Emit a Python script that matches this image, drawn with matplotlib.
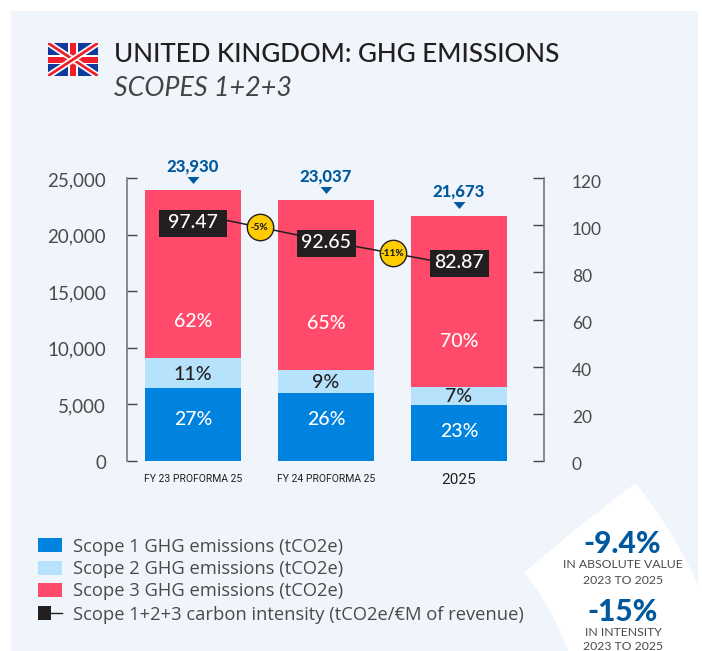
import matplotlib
matplotlib.use('Agg')
import matplotlib.pyplot as plt
from matplotlib.patches import Rectangle, PathPatch
from matplotlib.path import Path
from matplotlib.transforms import ScaledTranslation

W, H = 702, 651

categories = ['FY 23 PROFORMA 25', 'FY 24 PROFORMA 25', '2025']
scope1 = [6460, 5990, 4985]
scope2 = [2630, 2075, 1517]
scope3 = [14840, 14972, 15171]
totals = ['23,930', '23,037', '21,673']
total_values = [23930, 23037, 21673]
scope1_pct = ['27%', '26%', '23%']
scope2_pct = ['11%', '9%', '7%']
scope3_pct = ['62%', '65%', '70%']
intensity_line = [105, 93.3, 82.9]
intensity_boxes = [101, 92.5, 84]
intensity_labels = ['97.47', '92.65', '82.87']
change_labels = ['-5%', '-11%']
left_ticks = [0, 5000, 10000, 15000, 20000, 25000]
right_ticks = [0, 20, 40, 60, 80, 100, 120]
legend_labels = ['Scope 1 GHG emissions (tCO2e)', 'Scope 2 GHG emissions (tCO2e)',
                 'Scope 3 GHG emissions (tCO2e)', 'Scope 1+2+3 carbon intensity (tCO2e/€M of revenue)']

BLUE = '#0082DF'
LIGHT = '#B6E3FB'
RED = '#FF4A6B'
DARK = '#231F20'
NAVY = '#00599F'
GREY = '#4A4A4A'
PANEL = '#F0F5FC'
MAIN = 'Lato'

fig = plt.figure(figsize=(W / 100, H / 100), dpi=100, facecolor='white')

# overlay in pixel coordinates for the panel, flag, legend and callout
bg = fig.add_axes([0, 0, 1, 1])
bg.set_xlim(0, W)
bg.set_ylim(H, 0)
bg.axis('off')
bg.add_patch(Rectangle((11, 11), 687, 640, fc=PANEL, ec='none'))

# white callout shape
verts = [(636, 483), (598, 511), (560, 541), (524, 573),
         (547, 600), (558, 625), (568, 651),
         (702, 651), (702, 593), (680, 545), (660, 515), (636, 483)]
codes = [Path.MOVETO, Path.CURVE4, Path.CURVE4, Path.CURVE4,
         Path.CURVE4, Path.CURVE4, Path.CURVE4,
         Path.LINETO, Path.LINETO, Path.CURVE4, Path.CURVE4, Path.CURVE4]
bg.add_patch(PathPatch(Path(verts, codes), fc='white', ec='none'))

# flag
fx0, fx1, fy0, fy1 = 48, 98, 43, 76
bg.add_patch(Rectangle((fx0, fy0), fx1 - fx0, fy1 - fy0, fc='#0F3A9E', ec='none'))
flag_clip = Rectangle((fx0, fy0), fx1 - fx0, fy1 - fy0, transform=bg.transData)
for (a, b) in [((fx0, fy0), (fx1, fy1)), ((fx0, fy1), (fx1, fy0))]:
    l1, = bg.plot([a[0], b[0]], [a[1], b[1]], color='white', lw=4.5, solid_capstyle='butt')
    l2, = bg.plot([a[0], b[0]], [a[1], b[1]], color='#F01E28', lw=2, solid_capstyle='butt')
    l1.set_clip_path(flag_clip)
    l2.set_clip_path(flag_clip)
bg.add_patch(Rectangle((fx0, 55), 50, 9, fc='white', ec='none'))
bg.add_patch(Rectangle((68, fy0), 10, 33, fc='white', ec='none'))
bg.add_patch(Rectangle((fx0, 56.5), 50, 6.5, fc='#F01E28', ec='none'))
bg.add_patch(Rectangle((70, fy0), 6, 33, fc='#F01E28', ec='none'))

bg.text(114, 55, 'UNITED KINGDOM: GHG EMISSIONS', fontsize=18.7, color=DARK,
        family=MAIN, fontweight='medium', va='center', ha='left')
bg.text(114, 88, 'SCOPES 1+2+3', fontsize=19.4, color='#444444', family=MAIN,
        fontweight='normal', style='italic', va='center', ha='left')

# legend
for i, label in enumerate(legend_labels):
    yc = [545, 567.5, 590, 613][i]
    if i == 3:
        bg.add_patch(Rectangle((38, yc - 7), 13, 14, fc=DARK, ec='none'))
        bg.plot([51, 62], [yc, yc], color=DARK, lw=1)
    else:
        bg.add_patch(Rectangle((38, yc - 7), 24, 14, fc=[BLUE, LIGHT, RED][i], ec='none'))
    bg.text(73, yc + 1.5, label, fontsize=13.25, color=GREY, family='Open Sans', va='center', ha='left')

# callout text
bg.text(622, 544, '-9.4%', fontsize=21.5, color=NAVY, family=MAIN, fontweight='black', ha='center', va='center')
bg.text(623, 565, 'IN ABSOLUTE VALUE', fontsize=8.8, color=GREY, family=MAIN, ha='center', va='center')
bg.text(623, 581, '2023 TO 2025', fontsize=8.8, color=GREY, family=MAIN, ha='center', va='center')
bg.text(623, 612, '-15%', fontsize=21.5, color=NAVY, family=MAIN, fontweight='black', ha='center', va='center')
bg.text(623, 632, 'IN INTENSITY', fontsize=8.8, color=GREY, family=MAIN, ha='center', va='center')
bg.text(623, 647, '2023 TO 2025', fontsize=8.8, color=GREY, family=MAIN, ha='center', va='center')

# chart axes, 0 at y=461 and 25,000 at y=178
left, right, top, bottom = 127, 544, 178, 461
ax = fig.add_axes([left / W, 1 - bottom / H, (right - left) / W, (bottom - top) / H])
ax.patch.set_alpha(0)
ax.set_xlim(-(193 - left) / 133, (right - 193) / 133)
ax.set_ylim(0, 25000)
xs = [0, 1, 2]
bw = 96 / 133
bot2 = [a + b for a, b in zip(scope1, scope2)]
ax.bar(xs, scope1, width=bw, color=BLUE)
ax.bar(xs, scope2, width=bw, bottom=scope1, color=LIGHT)
ax.bar(xs, scope3, width=bw, bottom=bot2, color=RED)

for s in ['top', 'right', 'bottom']:
    ax.spines[s].set_visible(False)
ax.spines['left'].set_color('#777777')
ax.spines['left'].set_linewidth(1.2)
ax.set_xticks(xs)
ax.set_xticklabels(categories, family='Roboto', fontsize=7.5, color=DARK)
ax.get_xticklabels()[2].set_fontsize(11)
ax.tick_params(axis='x', length=0, pad=9)
ax.set_yticks(left_ticks)
ax.set_yticklabels([f'{v:,}' for v in left_ticks], family=MAIN, fontsize=13.5, color=GREY)
ax.tick_params(axis='y', direction='in', length=7.5, width=1, color='#444444', pad=15)

ax2 = ax.twinx()
ax2.patch.set_alpha(0)
ax2.set_ylim(0, 120)
for s in ['top', 'left', 'bottom']:
    ax2.spines[s].set_visible(False)
ax2.spines['right'].set_color('#777777')
ax2.spines['right'].set_linewidth(1.2)
ax2.set_yticks(right_ticks)
ax2.set_yticklabels(right_ticks, family=MAIN, fontsize=12.5, color=GREY)
ax2.tick_params(axis='y', direction='in', length=8, width=1, color='#444444', pad=20)

shift = ScaledTranslation(0, -1 / 100, fig.dpi_scale_trans)
for lab in ax.get_yticklabels():
    lab.set_transform(lab.get_transform() + shift)
shift2 = ScaledTranslation(0, -3 / 100, fig.dpi_scale_trans)
for lab in ax2.get_yticklabels():
    lab.set_transform(lab.get_transform() + shift2)

scope1_pos = [0.57, 0.61, 0.53]
scope3_pos = [0.22, 0.27, 0.27]
arrow = [(-1, 0.58), (1, 0.58), (0, -0.58)]
for i in xs:
    ax.text(i, scope1[i] * scope1_pos[i], scope1_pct[i], color='white', fontsize=14, family=MAIN,
            fontweight='medium', ha='center', va='center')
    ax.text(i, scope1[i] + scope2[i] * 0.46, scope2_pct[i], color=DARK, fontsize=14, family=MAIN,
            fontweight='medium', ha='center', va='center')
    ax.text(i, bot2[i] + scope3[i] * scope3_pos[i], scope3_pct[i], color='white', fontsize=14, family=MAIN,
            fontweight='medium', ha='center', va='center')
    ax.annotate(totals[i], (i, total_values[i]), xytext=(0, 16), textcoords='offset pixels',
                color=NAVY, fontsize=12, family=MAIN, fontweight='black', ha='center', va='bottom',
                annotation_clip=False)
    ax.plot([i], [total_values[i] + 930], marker=arrow, ms=8.6, color=NAVY, clip_on=False, mew=0)

ax2.plot(xs, intensity_line, color=DARK, lw=1.1, zorder=5)
box_widths = [68, 59, 59]
for i in xs:
    h = 27 / box_widths[i]
    box = [(-1, -h), (1, -h), (1, h), (-1, h)]
    ax2.plot([i], [intensity_boxes[i]], marker=box, ms=box_widths[i] * 0.72, mfc=DARK, mew=0, zorder=6)
    ax2.text(i, intensity_boxes[i], intensity_labels[i], color='white', fontsize=14, family=MAIN,
             fontweight='medium', ha='center', va='center', zorder=7)

for i in [0, 1]:
    mx = i + 0.5
    my = (intensity_line[i] + intensity_line[i + 1]) / 2
    ax2.plot([mx], [my], marker='o', ms=19, mfc='#FFCC00', mec=DARK, mew=1, zorder=8)
    ax2.text(mx, my, change_labels[i], color=DARK, fontsize=7.2, family=MAIN, fontweight='black',
             ha='center', va='center', zorder=9)

fig.savefig('out.png', dpi=100)
